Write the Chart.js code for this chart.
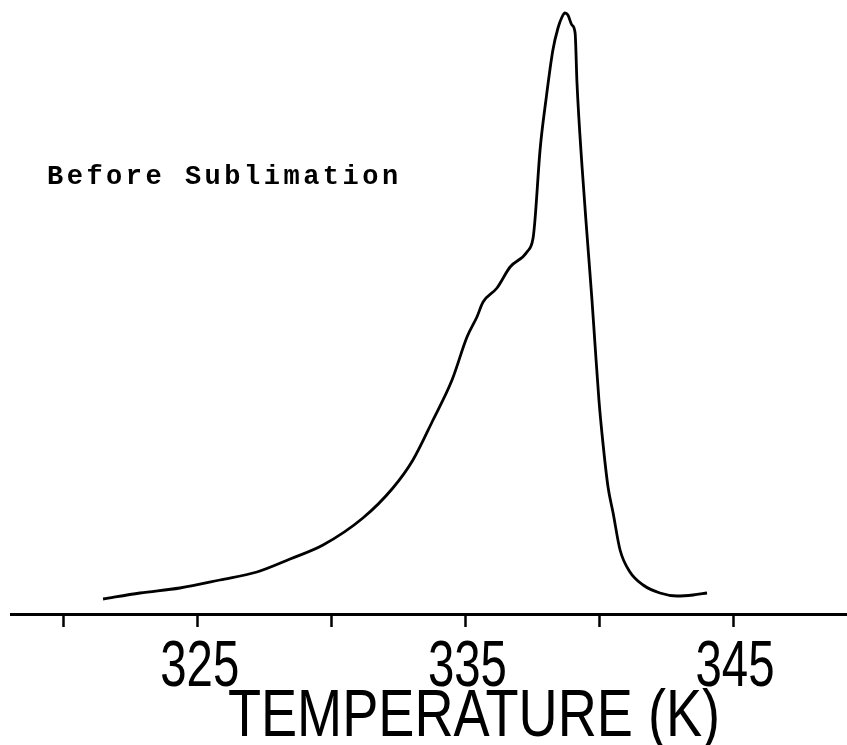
<!DOCTYPE html>
<html>
<head>
<meta charset="utf-8">
<script src="https://cdn.jsdelivr.net/npm/chart.js@4/dist/chart.umd.min.js"></script>
<style>
    html, body { margin: 0; padding: 0; background: #fff; }
    #chart-container { width: 847px; height: 745px; }
</style>
</head>
<body>
<div id="chart-container"><canvas id="thermogram"></canvas></div>
<script>
// temperature (K)
const TEMPERATURES = [
    321.46, 322.84, 324.33, 325.83, 327.21, 328.45, 329.68, 331.17, 332.29, 333.04,
    333.79, 334.50, 335.06, 335.43, 335.66, 336.18, 336.67, 337.30, 337.53, 337.60,
    337.79, 338.01, 338.27, 338.46, 338.61, 338.72, 338.83, 338.98, 339.10, 339.17,
    339.36, 339.54, 339.73, 339.84, 339.99, 340.14, 340.33, 340.52, 340.78,
    341.15, 341.64, 342.27, 342.91, 343.51, 344.03
];
// signal height (arbitrary units, baseline = axis)
const SIGNAL = [
    15, 21, 26, 34, 42, 55, 69, 96, 126, 154,
    194, 234, 277, 297, 312, 326, 347, 362, 376, 394,
    464, 514, 564, 586, 597, 601, 599, 589, 581, 531,
    447, 381, 314, 271, 214, 171, 127, 101, 64,
    42, 29, 21, 18, 19, 21
];
const TICK_VALUES = [320, 325, 330, 335, 340, 345];
const LABELED_TICKS = [325, 335, 345];
const AXIS_TITLE = 'TEMPERATURE (K)';
const NOTE_TEXT = 'Before Sublimation';

function buildPoints() {
    let points = [];
    for (let i = 0; i < TEMPERATURES.length; i++) {
        points.push({ x: TEMPERATURES[i], y: SIGNAL[i] });
    }
    return points;
}

// condensed text: the original lettering is much narrower than any installed face
function drawNarrowText(ctx, text, cx, baseline, squeeze) {
    ctx.save();
    ctx.translate(cx, baseline);
    ctx.scale(squeeze, 1);
    ctx.textAlign = 'center';
    ctx.textBaseline = 'alphabetic';
    ctx.fillText(text, 0, 0);
    ctx.restore();
}

// tick labels, axis title and the sample note
const textPlugin = {
    id: 'textPlugin',
    afterDraw(chart) {
        let ctx = chart.ctx;
        let xScale = chart.scales.x;
        ctx.save();
        ctx.fillStyle = '#000';

        ctx.font = '64px "Liberation Sans"';
        for (let i = 0; i < LABELED_TICKS.length; i++) {
            let px = xScale.getPixelForValue(LABELED_TICKS[i]);
            drawNarrowText(ctx, String(LABELED_TICKS[i]), px + 2, 686, 0.74);
        }

        ctx.font = '66px "Liberation Sans"';
        drawNarrowText(ctx, AXIS_TITLE, 474, 736, 0.82);

        ctx.font = 'bold 27px "Liberation Mono"';
        ctx.letterSpacing = '3.5px';
        ctx.textAlign = 'left';
        ctx.textBaseline = 'alphabetic';
        ctx.fillText(NOTE_TEXT, 47, 184);
        ctx.restore();
    }
};

function showThermogram(canvas) {
    const data = {
        datasets: [{
            data: buildPoints(),
            borderColor: '#000',
            borderWidth: 2.8,
            pointRadius: 0,
            fill: false,
            cubicInterpolationMode: 'monotone'
        }]
    };

    const config = {
        type: 'line',
        data: data,
        options: {
            responsive: true,
            maintainAspectRatio: false,
            animation: false,
            layout: { padding: { left: 11, right: 0, top: 0, bottom: 0 } },
            plugins: {
                legend: { display: false },
                tooltip: { enabled: false }
            },
            scales: {
                x: {
                    type: 'linear',
                    min: 318.02,
                    max: 349.26,
                    afterBuildTicks: (scale) => {
                        scale.ticks = TICK_VALUES.map(v => ({ value: v }));
                    },
                    afterFit: (scale) => {
                        scale.height = 131;
                    },
                    ticks: {
                        display: false
                    },
                    grid: {
                        drawOnChartArea: false,
                        drawTicks: true,
                        tickLength: 13,
                        tickColor: '#000',
                        tickWidth: 2.5
                    },
                    border: { display: true, color: '#000', width: 3 }
                },
                y: {
                    display: false,
                    min: 0,
                    max: 614
                }
            }
        },
        plugins: [textPlugin]
    };

    return new Chart(canvas, config);
}

showThermogram(document.getElementById('thermogram'));
</script>
</body>
</html>
